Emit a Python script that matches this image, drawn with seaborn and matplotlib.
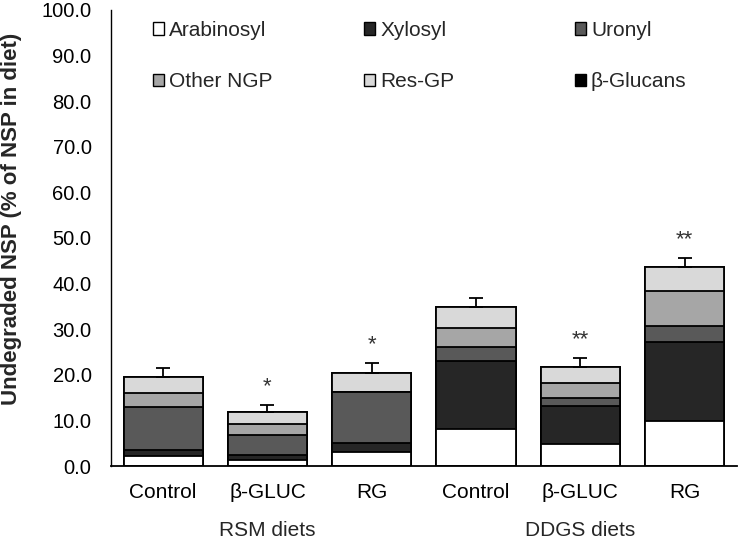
import numpy as np
import pandas as pd
import matplotlib
matplotlib.use("Agg")
import matplotlib.pyplot as plt
from matplotlib.patches import Patch
import seaborn as sns

# ---------------------------------- data ----------------------------------

bar_ids = ["rsm_ctrl", "rsm_bg", "rsm_rg", "ddgs_ctrl", "ddgs_bg", "ddgs_rg"]
categories = ["Control", "β-GLUC", "RG", "Control", "β-GLUC", "RG"]
diet_groups = ["RSM diets", "DDGS diets"]

# components, bottom to top of each stack (% of NSP in diet)
arabinosyl = [2.3, 1.4, 3.0, 8.2, 4.9, 9.9]
xylosyl = [1.2, 1.0, 2.1, 14.9, 8.3, 17.4]
uronyl = [9.4, 4.5, 11.1, 2.9, 1.7, 3.5]
other_ngp = [3.0, 2.4, 0.0, 4.3, 3.4, 7.5]
res_gp = [3.7, 2.6, 4.1, 4.5, 3.5, 5.3]
beta_glucans = [0.0, 0.0, 0.0, 0.0, 0.0, 0.0]

sem = [1.8, 1.5, 2.2, 2.1, 1.9, 2.0]
stars = ["", "*", "*", "", "**", "**"]

components = ["Arabinosyl", "Xylosyl", "Uronyl", "Other NGP", "Res-GP", "β-Glucans"]
colors = ["#ffffff", "#262626", "#595959", "#a6a6a6", "#d9d9d9", "#000000"]

# ---------------------------------- plot ----------------------------------

sns.set_theme(style="white")
plt.rcParams["font.family"] = ["Liberation Sans", "DejaVu Sans"]

df = pd.DataFrame({"bar": bar_ids,
                   "Arabinosyl": arabinosyl,
                   "Xylosyl": xylosyl,
                   "Uronyl": uronyl,
                   "Other NGP": other_ngp,
                   "Res-GP": res_gp,
                   "β-Glucans": beta_glucans})

# cumulative tops, so the stack can be drawn as overlapping bars (top layer first)
cum = df[components].cumsum(axis=1)
for comp in components:
    df["top_" + comp] = cum[comp]

fig = plt.figure(figsize=(7.38, 5.43), dpi=100)
ax = fig.add_axes([0.1504, 0.1418, 0.848, 0.8398])

for comp, col in reversed(list(zip(components, colors))):
    sns.barplot(data=df, x="bar", y="top_" + comp, order=bar_ids, color=col,
                saturation=1, edgecolor="black", linewidth=1.3, width=0.76,
                errorbar=None, ax=ax)

totals = df["top_β-Glucans"].values
xpos = np.arange(len(bar_ids))
ax.errorbar(xpos, totals, yerr=[np.zeros(len(sem)), sem], fmt="none",
            ecolor="black", elinewidth=1.3, capsize=4.7, capthick=1.3, zorder=5)

for x, t, s, lab in zip(xpos, totals, sem, stars):
    if lab:
        ax.text(x, t + s + 1.8, lab, ha="center", va="bottom", fontsize=16, color="#333333")

# axes styling
ax.set_ylim(0, 100)
ax.set_xlim(-0.5, 5.5)
ax.set_yticks(np.arange(0, 101, 10))
ax.set_yticklabels([f"{v:.1f}" for v in np.arange(0, 101, 10)], fontsize=14.5)
ax.tick_params(axis="y", direction="in", length=4.3, width=1, pad=14, colors="black")
ax.set_xticks(xpos)
ax.set_xticklabels(categories, fontsize=15)
ax.tick_params(axis="x", length=0, pad=12, colors="black")
ax.set_xlabel("")
ax.set_ylabel("Undegraded NSP (% of NSP in diet)", fontsize=16, fontweight="bold")
ax.yaxis.set_label_coords(-0.142, 0.542)

sns.despine(ax=ax)
ax.spines["left"].set_linewidth(1)
ax.spines["bottom"].set_linewidth(1.3)
ax.spines["left"].set_color("black")
ax.spines["bottom"].set_color("black")

# group labels under the category labels
trans = matplotlib.transforms.blended_transform_factory(ax.transData, ax.transAxes)
ax.text(1, -0.1425, diet_groups[0], transform=trans, ha="center", va="center", fontsize=15)
ax.text(4, -0.1425, diet_groups[1], transform=trans, ha="center", va="center", fontsize=15)

# legend: three columns of two, equal column spacing like the original
handles = [Patch(facecolor=c, edgecolor="black", linewidth=1) for c in colors]
col_x = [0.067, 0.404, 0.741]
legends = []
for i, x in enumerate(col_x):
    idx = [i, i + 3]
    leg = ax.legend([handles[j] for j in idx], [components[j] for j in idx],
                    loc="upper left", bbox_to_anchor=(x, 0.976), frameon=False,
                    fontsize=15, handlelength=0.53, handleheight=0.53,
                    handletextpad=0.25, labelspacing=1.55, borderpad=0, borderaxespad=0)
    legends.append(leg)
for leg in legends[:-1]:
    ax.add_artist(leg)

fig.savefig("out.png", dpi=100)
